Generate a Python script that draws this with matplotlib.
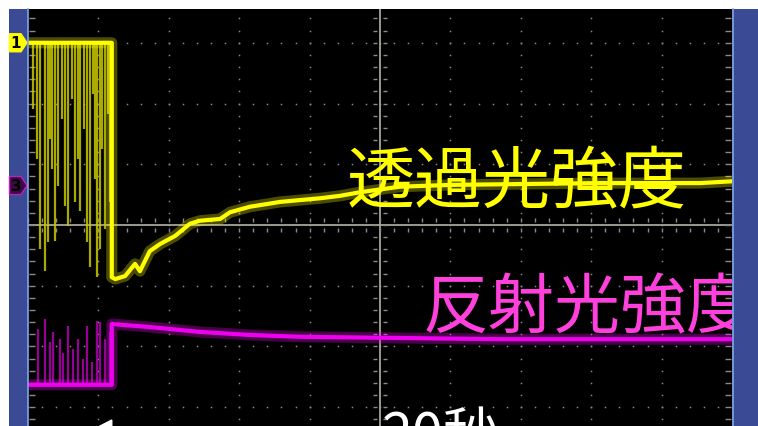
import numpy as np
import matplotlib.pyplot as plt
from matplotlib.patches import Rectangle, Polygon

plt.rcParams['font.family'] = ['Noto Sans CJK JP', 'DejaVu Sans']

# scope screen units: time in divisions (0..10), level in divisions from centre
step_time = 1.19

# channel 1 (transmitted light)
ch1_high = 3.0
ch1_t = [1.19, 1.24, 1.38, 1.52, 1.59, 1.73, 1.88, 2.09, 2.30, 2.44, 2.73, 2.87,
         3.15, 3.58, 3.86, 4.15, 4.43, 4.72, 5.28, 6.00, 6.70, 8.12, 9.55, 10.0]
ch1_v = [-0.86, -0.89, -0.84, -0.64, -0.76, -0.43, -0.31, -0.18, 0.02, 0.07, 0.10, 0.21,
         0.30, 0.38, 0.41, 0.44, 0.48, 0.54, 0.63, 0.66, 0.67, 0.69, 0.69, 0.72]
# dropouts on channel 1 while the beam is chopped
ch1_drop_t = [0.07, 0.13, 0.17, 0.24, 0.28, 0.31, 0.34, 0.38, 0.43, 0.48, 0.53, 0.57,
              0.63, 0.67, 0.71, 0.74, 0.80, 0.84, 0.88, 0.92, 0.95, 0.98, 1.02, 1.05,
              1.09, 1.14, 1.16]
ch1_drop_v = [1.91, 1.09, -0.40, -0.76, -0.28, 1.42, 0.92, -0.26, 0.64, 1.74, 0.31, -0.02,
              2.07, 0.38, 1.09, 0.23, 1.58, -0.28, -0.69, 2.16, 0.76, -0.86, -0.40, 1.25,
              -0.07, 1.83, 0.38]

# channel 3 (reflected light)
ch3_low = -2.63
ch3_t = [1.19, 1.73, 2.44, 3.15, 3.86, 5.28, 6.70, 10.0]
ch3_v = [-1.63, -1.68, -1.76, -1.81, -1.84, -1.86, -1.88, -1.88]
ch3_spike_t = [0.14, 0.24, 0.31, 0.36, 0.45, 0.50, 0.57, 0.64, 0.71, 0.78, 0.84, 0.91,
               0.98, 1.02, 1.09, 1.16]
ch3_spike_v = [-1.71, -1.55, -1.93, -1.76, -1.88, -2.10, -1.66, -2.04, -1.88, -2.21, -1.66,
               -2.26, -1.58, -1.60, -1.88, -1.76]

YELLOW = '#ffff00'
MAGENTA = '#f000f0'
BLUE = '#3a4a94'

W, H = 758, 427
fig = plt.figure(figsize=(W / 100, H / 100), dpi=100, facecolor='white')
ax = fig.add_axes([28 / W, 0, 704 / W, 417 / H])
ax.set_facecolor('black')
ax.set_xlim(0, 10)
ax.set_ylim(-3.309, 3.556)
ax.set_xticks([])
ax.set_yticks([])
for sp in ax.spines.values():
    sp.set_visible(False)

# side panels
fig.add_artist(Rectangle((9 / W, 0), 19 / W, 417 / H, transform=fig.transFigure,
                         facecolor=BLUE, edgecolor='none'))
fig.add_artist(Rectangle((732 / W, 0), 26 / W, 417 / H, transform=fig.transFigure,
                         facecolor=BLUE, edgecolor='none'))
for xe in (27.5, 732.5):
    fig.add_artist(plt.Line2D([xe / W, xe / W], [0, 417 / H], transform=fig.transFigure,
                              color='#7fa6e6', lw=1.2))

# graticule
grid_c = '#8a8a8a'
minor = np.arange(0, 10.01, 0.2)
yminor = np.arange(-3.2, 3.56, 0.2)
for gx in range(1, 10):
    if gx != 5:
        ax.plot(np.full_like(yminor, gx), yminor, ls='none', marker='s', ms=1.1,
                color=grid_c, mec='none')
for gy in (-3, -2, -1, 1, 2, 3):
    ax.plot(minor, np.full_like(minor, gy), ls='none', marker='s', ms=1.1,
            color=grid_c, mec='none')
ax.axhline(0, color='#a8a49c', lw=1.3)
ax.axvline(5, color='#a8a49c', lw=1.3)
ax.plot(minor, np.full_like(minor, 0.08), ls='none', marker='|', ms=3, color=grid_c)
ax.plot(minor, np.full_like(minor, -0.08), ls='none', marker='|', ms=3, color=grid_c)
ax.plot(np.full_like(yminor, 4.93), yminor, ls='none', marker='_', ms=3, color=grid_c)
ax.plot(np.full_like(yminor, 5.07), yminor, ls='none', marker='_', ms=3, color=grid_c)
ax.plot(np.full_like(yminor, 0.06), yminor, ls='none', marker='_', ms=4, color=grid_c)
ax.plot(np.full_like(yminor, 9.94), yminor, ls='none', marker='_', ms=4, color=grid_c)

# channel 1 trace
ax.vlines(ch1_drop_t, ch1_drop_v, ch1_high, color='#c8c800', lw=1.6, alpha=0.85)
t1 = [0, step_time] + ch1_t
v1 = [ch1_high, ch1_high] + ch1_v
ax.plot(t1, v1, color=YELLOW, lw=8, alpha=0.3, solid_joinstyle='round')
ax.plot(t1, v1, color=YELLOW, lw=3, solid_joinstyle='round')

# channel 3 trace
ax.vlines(ch3_spike_t, ch3_low, ch3_spike_v, color='#b000b0', lw=1.6, alpha=0.85)
t3 = [0, step_time] + ch3_t
v3 = [ch3_low, ch3_low] + ch3_v
ax.plot(t3, v3, color=MAGENTA, lw=8, alpha=0.3, solid_joinstyle='round')
ax.plot(t3, v3, color=MAGENTA, lw=3, solid_joinstyle='round')

# labels
ax.text(4.52, 0.69, '透過光強度', color=YELLOW, fontsize=49, va='center', ha='left')
ax.text(5.60, -1.38, '反射光強度', color='#ff40dc', fontsize=47.5, va='center',
        ha='left', clip_on=False)
ax.text(5.03, -3.0, '20秒', color='white', fontsize=40, va='top', ha='left')
ax.add_patch(Polygon([[step_time, -3.21], [step_time, -3.75], [step_time - 0.45, -3.48]],
                     closed=True, color='white'))

# channel markers on the left panel
for lvl, face, edge, num in ((ch1_high, YELLOW, YELLOW, '1'),
                             (0.65, '#3a0a40', '#c020c0', '3')):
    yc = (H - (226 - lvl * 60.75)) / H
    hh = 9 / H
    pts = [[9.5 / W, yc - hh], [21 / W, yc - hh], [27 / W, yc], [21 / W, yc + hh],
           [9.5 / W, yc + hh]]
    fig.add_artist(Polygon(pts, closed=True, transform=fig.transFigure,
                           facecolor=face, edgecolor=edge, lw=1))
    fig.text(16 / W, yc, num, color='black', fontsize=11, fontweight='bold',
             ha='center', va='center', family='DejaVu Sans')

fig.savefig('out.png', dpi=100, facecolor='white')
